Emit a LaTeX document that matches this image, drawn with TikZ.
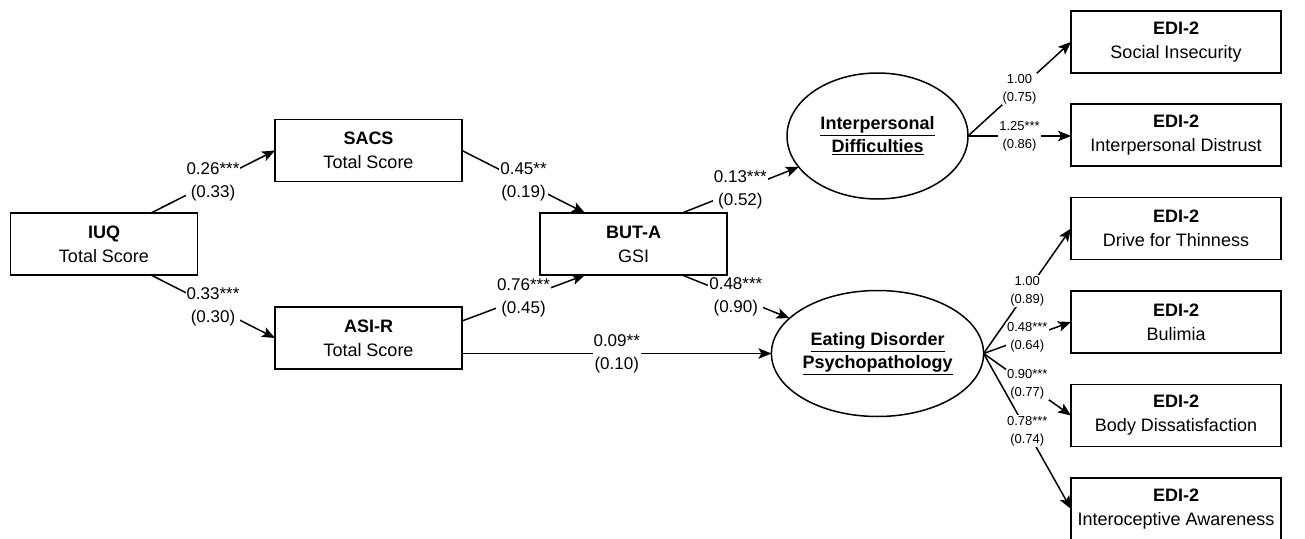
\documentclass[tikz,border=0pt]{standalone}
\usepackage{fontspec}
\setmainfont{Liberation Sans}
\usetikzlibrary{shapes.geometric,arrows.meta,calc}
\newcommand{\ulx}[1]{\underline{#1}}
\begin{document}
\begin{tikzpicture}[x=1pt,y=-1pt,
  box/.style={draw, line width=1.7pt, minimum width=187pt, minimum height=62pt, align=center, font=\fontsize{18}{24}\selectfont, inner sep=0pt, outer sep=0pt},
  edibox/.style={box, minimum width=210pt},
  lat/.style={ellipse, draw, line width=1.5pt, minimum width=181pt, minimum height=126pt, align=center, font=\fontsize{18}{23}\selectfont\bfseries, inner sep=0pt, outer sep=0pt},
  conn/.style={line width=1.5pt, -{Stealth[length=13pt,width=10.5pt,inset=3pt]}},
  lbl/.style={fill=white, inner sep=1pt, align=center, font=\fontsize{17}{23}\selectfont},
  slbl/.style={fill=white, inner sep=1pt, align=center, font=\fontsize{13}{18}\selectfont},
]
\useasboundingbox[fill=white] (0,0) rectangle (1305,538);

\node[box] (iuq) at (104,244) {\textbf{IUQ}\\Total Score};
\node[box] (sacs) at (368.5,150.5) {\textbf{SACS}\\Total Score};
\node[box] (asir) at (368.5,338) {\textbf{ASI-R}\\Total Score};
\node[box] (buta) at (633.5,244) {\textbf{BUT-A}\\GSI};
\node[lat] (id) at (877.5,136) {\ulx{Interpersonal}\\\ulx{Difficulties}};
\node[lat] (ed) at (877.5,353.5) {\ulx{Eating Disorder}\\\ulx{Psychopathology}};

\node[edibox] (si) at (1176,42) {\textbf{EDI-2}\\Social Insecurity};
\node[edibox] (ipd) at (1176,135) {\textbf{EDI-2}\\Interpersonal Distrust};
\node[edibox] (dt) at (1176,228.5) {\textbf{EDI-2}\\Drive for Thinness};
\node[edibox] (bu) at (1176,322) {\textbf{EDI-2}\\Bulimia};
\node[edibox] (bd) at (1176,415.5) {\textbf{EDI-2}\\Body Dissatisfaction};
\node[edibox] (ia) at (1176,509) {\textbf{EDI-2}\\Interoceptive Awareness};

\draw[conn] ([xshift=47pt]iuq.north) -- node[lbl]{0.26***\\(0.33)} (sacs.west);
\draw[conn] ([xshift=47pt]iuq.south) -- node[lbl]{0.33***\\(0.30)} (asir.west);
\draw[conn] (sacs.east) -- node[lbl]{0.45**\\(0.19)} ([xshift=-48.5pt]buta.north);
\draw[conn] ([yshift=17pt]asir.east) -- node[lbl]{0.76***\\(0.45)} ([xshift=-48.5pt]buta.south);
\draw[conn] (asir.east |- ed.west) -- node[lbl]{0.09**\\(0.10)} (ed.west);
\draw[conn] ([xshift=48.5pt]buta.north) -- node[lbl]{0.13***\\(0.52)} (id);
\draw[conn] ([xshift=48.5pt]buta.south) -- node[lbl]{0.48***\\(0.90)} (ed);

\draw[conn] (id.east) -- node[slbl]{1.00\\(0.75)} (si.west);
\draw[conn] (id.east) -- node[slbl]{1.25***\\(0.86)} (ipd.west |- id.east);

\draw[conn] (ed.east) -- node[slbl]{1.00\\(0.89)} (dt.west);
\draw[conn] (ed.east) -- node[slbl]{0.48***\\(0.64)} (bu.west);
\draw[conn] (ed.east) -- node[slbl]{0.90***\\(0.77)} (bd.west);
\draw[conn] (ed.east) -- node[slbl]{0.78***\\(0.74)} (ia.west);
\end{tikzpicture}
\end{document}
